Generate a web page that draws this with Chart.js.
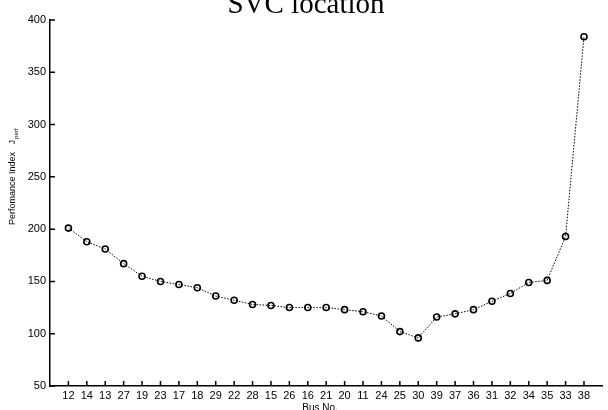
<!DOCTYPE html>
<html>
<head>
<meta charset="utf-8">
<script src="https://cdn.jsdelivr.net/npm/chart.js@4.4.0/dist/chart.umd.min.js"></script>
<style>
  html, body { margin: 0; padding: 0; background: #fff; }
  #wrap { width: 608px; height: 410px; position: relative; }
</style>
</head>
<body>
<div id="wrap"><canvas id="svcChart" width="608" height="410"></canvas></div>
<script>
// bus numbers along the x axis, in plotted order
const busNo = ["12", "14", "13", "27", "19", "23", "17", "18", "29", "22", "28", "15", "26", "16", "21",
  "20", "11", "24", "25", "30", "39", "37", "36", "31", "32", "34", "35", "33", "38"];

// performance index J_perf for each bus
const perfIndex = [201, 188, 181, 167, 155, 150, 147, 144, 136, 132, 128, 127, 125, 125, 125,
  123, 121, 117, 102, 96, 116, 119, 123, 131, 138.5, 149, 151, 193, 384];

const yTicks = [50, 100, 150, 200, 250, 300, 350, 400];

const titleText = "SVC location";
const xLabel = "Bus No.";
const yLabel = "Perfomance Index";

const sansFont = "'Liberation Sans', Arial, Helvetica, sans-serif";

// matlab style ticks pointing into the axes, plus title and axis labels
const matlabDecor = {
  id: "matlabDecor",
  afterDraw(chart) {
    const ctx = chart.ctx;
    const area = chart.chartArea;
    const xs = chart.scales.x;
    const ys = chart.scales.y;
    ctx.save();
    ctx.strokeStyle = "#000";
    ctx.lineWidth = 1.5;
    ctx.beginPath();
    ys.ticks.forEach(t => {
      const py = ys.getPixelForValue(t.value);
      ctx.moveTo(area.left, py);
      ctx.lineTo(area.left + 5, py);
    });
    xs.ticks.forEach(t => {
      const px = xs.getPixelForValue(t.value);
      ctx.moveTo(px, area.bottom);
      ctx.lineTo(px, area.bottom - 5);
    });
    ctx.stroke();

    ctx.fillStyle = "#000";
    // title (top part falls outside the picture)
    ctx.font = "29px 'Liberation Serif', 'Times New Roman', serif";
    ctx.textAlign = "center";
    ctx.textBaseline = "alphabetic";
    ctx.fillText(titleText, 306, 13);

    // x label
    ctx.font = "10px " + sansFont;
    ctx.textBaseline = "top";
    ctx.fillText(xLabel, 320, 403);

    // y label with subscript
    ctx.translate(13, 225);
    ctx.rotate(-Math.PI / 2);
    ctx.textAlign = "left";
    ctx.textBaseline = "middle";
    ctx.font = "9px " + sansFont;
    ctx.fillText(yLabel, 0, 0);
    const w = ctx.measureText(yLabel + "   ").width;
    ctx.fillText("J", w, 0);
    const jw = ctx.measureText("J").width;
    ctx.font = "6px " + sansFont;
    ctx.fillText("perf", w + jw + 1, 3);
    ctx.restore();
  }
};

const ctx = document.getElementById("svcChart");

const svcChart = new Chart(ctx, {
  type: "line",
  data: {
    datasets: [
      {
        data: perfIndex.map((v, i) => ({ x: i + 1, y: v })),
        borderColor: "#000",
        borderWidth: 1,
        borderDash: [1.5, 1.5],
        pointRadius: 3,
        pointBorderWidth: 1.6,
        pointBorderColor: "#000",
        pointBackgroundColor: "rgba(0,0,0,0)",
        tension: 0
      }
    ]
  },
  options: {
    responsive: false,
    animation: false,
    layout: {
      padding: { left: 0, right: 1, top: 20, bottom: 0 }
    },
    plugins: {
      legend: { display: false },
      tooltip: { enabled: false },
      title: { display: false }
    },
    scales: {
      x: {
        type: "linear",
        min: 0,
        max: 30,
        afterBuildTicks: scale => {
          scale.ticks = busNo.map((b, i) => ({ value: i + 1 }));
        },
        afterFit: scale => {
          scale.height = 24;
        },
        ticks: {
          autoSkip: false,
          maxRotation: 0,
          padding: 3,
          color: "#000",
          font: { family: sansFont, size: 11 },
          callback: v => busNo[v - 1]
        },
        grid: { display: false, drawTicks: false },
        border: { display: true, color: "#000", width: 1.5 }
      },
      y: {
        type: "linear",
        min: 50,
        max: 400,
        afterBuildTicks: scale => {
          scale.ticks = yTicks.map(v => ({ value: v }));
        },
        afterFit: scale => {
          scale.width = 50;
        },
        ticks: {
          padding: 4,
          color: "#000",
          font: { family: sansFont, size: 11 }
        },
        grid: { display: false, drawTicks: false },
        border: { display: true, color: "#000", width: 1.5 }
      }
    }
  },
  plugins: [matlabDecor]
});
</script>
</body>
</html>
